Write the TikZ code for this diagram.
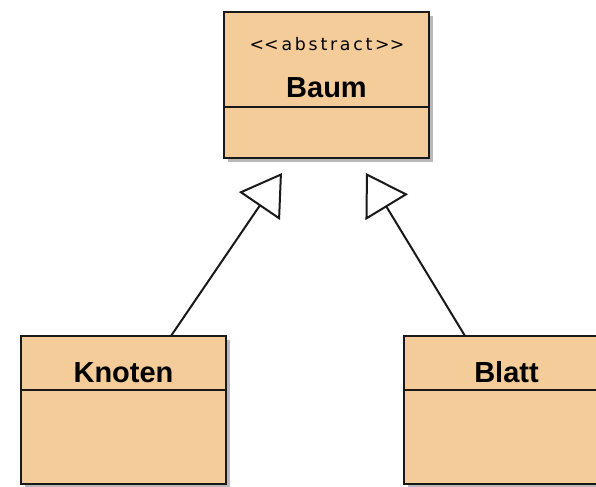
\documentclass[tikz,border=0pt]{standalone}
\usepackage{fontspec}
\setsansfont{Liberation Sans}
\newfontfamily\stereofont[LetterSpace=16]{DejaVu Sans}
\usetikzlibrary{positioning,arrows.meta,shadows}
\definecolor{ink}{RGB}{25,25,25}
\definecolor{cClass}{RGB}{244,204,153}

\begin{document}
\begin{tikzpicture}[
  x=0.75pt, y=-0.75pt,
  font=\sffamily,
  cls/.style={draw=ink, line width=1.5pt, fill=cClass, minimum width=153.75pt, inner sep=2pt, outer sep=0pt,
    drop shadow={shadow xshift=3pt, shadow yshift=-3pt, opacity=0.55}},
  head/.style={cls, anchor=north, font=\sffamily\bfseries\fontsize{21.75}{26}\selectfont, text depth=0pt},
  body/.style={cls, below=0pt of #1},
  stereo/.style={font=\stereofont\fontsize{13}{15}\selectfont, anchor=base},
  extends/.style={draw=ink, line width=1.5pt, -{Triangle[open, length=30pt, width=37pt]}},
]

\clip (0,0) rectangle (596,486);

% ---- abstract base class ----
\node[head, minimum height=71.25pt, text height=56.25pt] (baum) at (326.5,12) {Baum};
\node[body=baum, minimum height=38.25pt] (baum-body) {};
\node[stereo] (baum-stereo) at (327,50) {<\kern0pt<abstract>\kern0pt>};

% ---- subclasses ----
\node[head, minimum height=40.5pt, text height=28.5pt] (knoten) at (123.5,336) {Knoten};
\node[body=knoten, minimum height=70.5pt] (knoten-body) {};

\node[head, minimum height=40.5pt, text height=28.5pt] (blatt) at (506.5,336) {Blatt};
\node[body=blatt, minimum height=70.5pt] (blatt-body) {};

% ---- generalisation ----
\draw[extends] ([xshift=35.6pt]knoten.north) -- ([xshift=-33.4pt,yshift=-11.25pt]baum-body.south);
\draw[extends] ([xshift=-31.1pt]blatt.north) -- ([xshift=29.6pt,yshift=-11.25pt]baum-body.south);

\end{tikzpicture}
\end{document}
